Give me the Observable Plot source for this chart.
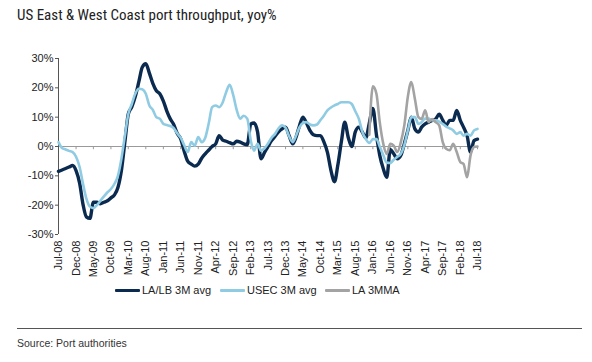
<!DOCTYPE html>
<html>
<head>
<meta charset="utf-8">
<script src="https://cdn.jsdelivr.net/npm/d3@7"></script>
<script src="https://cdn.jsdelivr.net/npm/@observablehq/plot@0.6"></script>
<style>
  html, body { margin: 0; padding: 0; background: #fff; }
  body { width: 592px; height: 362px; position: relative; overflow: hidden; font-family: "Liberation Sans", Arial, sans-serif; }
  #title { position: absolute; left: 17px; top: 6px; font-family: "Liberation Sans Narrow", "Roboto Condensed", "Liberation Sans", sans-serif; font-size: 15px; color: #222; white-space: nowrap; }
  #chart { position: absolute; left: 0; top: 40px; }
  .leg { position: absolute; top: 284px; font-size: 11px; color: #222; display: flex; align-items: center; white-space: nowrap; }
  .sw { width: 25px; height: 3px; margin-right: 2px; border-radius: 1px; }
  #rule { position: absolute; left: 17px; top: 328px; width: 565px; height: 1px; background: #555; }
  #source { position: absolute; left: 17px; top: 337px; font-family: "Liberation Sans Narrow", "Liberation Sans", sans-serif; font-size: 10.5px; color: #333; white-space: nowrap; }
</style>
</head>
<body>
<div id="title">US East &amp; West Coast port throughput, yoy%</div>
<div id="chart"></div>
<div class="leg" style="left:115px"><div class="sw" style="background:#0b2a4f"></div>LA/LB 3M avg</div>
<div class="leg" style="left:220px"><div class="sw" style="background:#8fcbe3"></div>USEC 3M avg</div>
<div class="leg" style="left:325px"><div class="sw" style="background:#a3a3a3"></div>LA 3MMA</div>
<div id="rule"></div>
<div id="source">Source: Port authorities</div>
<script>
// Monthly, Jul-08 .. Jul-18 (121 months)
const startYear = 2008, startMonth = 6; // July 2008
const seriesNames = ["LA/LB 3M avg", "USEC 3M avg", "LA 3MMA"];
const seriesColors = ["#0b2a4f", "#8fcbe3", "#a3a3a3"];

const lalb = [
  -8.5, -8.0, -7.5, -7.0, -6.5, -8.2, -12.5, -20, -24, -24.5, -19, -19,      // Jul-08..Jun-09
  -19.5, -19, -18.5, -17.5, -16.5, -14, -8, 2, 11, 13.5, 17, 22,             // Jul-09..Jun-10
  27, 28.2, 25, 21.5, 19, 18, 15.5, 12, 9.5, 7.5, 4.5, 2.6,                  // Jul-10..Jun-11
  -1.5, -5, -6, -6.7, -6, -4, -2.5, -1.2, 0, 0.9, 3.7, 2.2,                  // Jul-11..Jun-12
  1.8, 1.3, 0.9, 1.8, 1.5, 0.9, 0.6, 7.7, 8, 5, -4.2, -2,                    // Jul-12..Jun-13
  0, 2, 3.5, 5, 6, 6.6, 3.7, 0.9, 3, 7, 10, 8,                               // Jul-13..Jun-14
  5.5, 4, 3.7, 3.7, 1.5, -2, -8.2, -12, -6.5, 1.5, 8.3, 3,                   // Jul-14..Jun-15
  0, 5, 6.6, 4.9, 3, 8, 13, 4, -3, -7.6, -10.5, -1,                          // Jul-15..Jun-16
  -2.5, -4.2, -3, 0.9, 5.5, 10, 6, 4.9, 6.6, 7.7, 8.3, 8.9,                  // Jul-16..Jun-17
  9.4, 11, 9, 7.2, 8.9, 8.9, 12.3, 8.9, 6.6, 3.7, -1.9, 2,                   // Jul-17..Jun-18
  2.5                                                                        // Jul-18
];

const usec = [
  1.5, -0.5, -1, -1.5, -1.9, -3.5, -7, -13, -17.8, -20.5, -21, -20,
  -18.5, -17, -15.6, -14.5, -12.7, -10, -4, 4, 11, 14.5, 18, 19.7,
  19.5, 18, 14, 12.5, 10, 9.5, 7.7, 7.3, 7, 6.3, 4.5, 3,
  0.5, -1.9, 1.5, 0.3, 3.2, 1.5, 3, 8, 13.4, 14, 13.4, 15,
  18.5, 21, 17.5, 12.5, 9.5, 10.5, 9.5, 2, -1.4, 0.9, -1.4, -0.6,
  1, 3, 4.3, 6.2, 7.2, 6.4, 3.5, 1.5, 3.5, 6.5, 8, 8.3,
  7.5, 7.2, 7.5, 9, 10.6, 12.3, 13.3, 14, 14.5, 15.1, 15.1, 15.1,
  14.5, 12, 9.4, 5, 2.5, 1.2, 2.5, 2.5, 0, -3, -5.5, -5.6,
  -4.5, -3.5, -2.5, 0.5, 5.5, 10, 10, 7.7, 8.3, 9.5, 9.5, 8.9,
  8.9, 8.5, 7.7, 6.8, 6.2, 5.5, 4.3, 4.9, 3.7, 4.3, 3.7, 5.5,
  6
];

// LA 3MMA starts Dec-15 (month index 89)
const laStart = 89;
const la3mma = [
  4, 20.5, 18, 8.3, 0.9, -2.5, 0.9, 0.3, -1.9, 1.5, 7.2, 17,
  22, 16.3, 10, 9.4, 12.3, 8.3, 9.4, 8.3, 7.2, 1.5, -0.8, -1.3,
  0.9, -1.9, -5.3, -5.9, -10.5, -3.1, -0.2, 0
];

const yTicks = [-30, -20, -10, 0, 10, 20, 30];
const tickEvery = 5; // months between x labels

const monthDate = i => new Date(Date.UTC(startYear, startMonth + i, 1));

const rows = [];
lalb.forEach((v, i) => rows.push({date: monthDate(i), value: v, series: seriesNames[0]}));
usec.forEach((v, i) => rows.push({date: monthDate(i), value: v, series: seriesNames[1]}));
la3mma.forEach((v, i) => rows.push({date: monthDate(laStart + i), value: v, series: seriesNames[2]}));

const nMonths = lalb.length;
const xTicks = d3.range(0, nMonths, tickEvery).map(monthDate);
const x0 = monthDate(0), x1 = monthDate(nMonths - 1);

const chart = Plot.plot({
  width: 592,
  height: 240,
  marginLeft: 58,
  marginRight: 115,
  marginTop: 18,
  marginBottom: 46,
  style: {fontFamily: "'Liberation Sans', Arial, sans-serif", fontSize: "11px", color: "#222"},
  x: {type: "utc", domain: [x0, x1]},
  y: {domain: [-30, 30]},
  color: {domain: seriesNames, range: seriesColors},
  marks: [
    Plot.ruleY([0], {stroke: "#9a9a9a", strokeWidth: 1.2}),
    Plot.ruleX(xTicks, {x: d => d, y1: 0, y2: -1.1, stroke: "#9a9a9a"}),
    Plot.ruleX([x0], {y1: -30, y2: 30, stroke: "#555"}),
    Plot.axisY({ticks: yTicks, tickFormat: d => d + "%", tickSize: 3, tickPadding: 2, label: null, stroke: "#555"}),
    Plot.axisX({ticks: xTicks, tickFormat: d3.utcFormat("%b-%y"), tickRotate: -90, tickSize: 0, tickPadding: 6, label: null}),
    Plot.lineY(rows.filter(d => d.series === seriesNames[0]), {x: "date", y: "value", stroke: "series", strokeWidth: 3.4, curve: "monotone-x"}),
    Plot.lineY(rows.filter(d => d.series === seriesNames[1]), {x: "date", y: "value", stroke: "series", strokeWidth: 2.6, curve: "monotone-x"}),
    Plot.lineY(rows.filter(d => d.series === seriesNames[2]), {x: "date", y: "value", stroke: "series", strokeWidth: 2.6, curve: "monotone-x"})
  ]
});
document.getElementById("chart").appendChild(chart);
</script>
</body>
</html>
